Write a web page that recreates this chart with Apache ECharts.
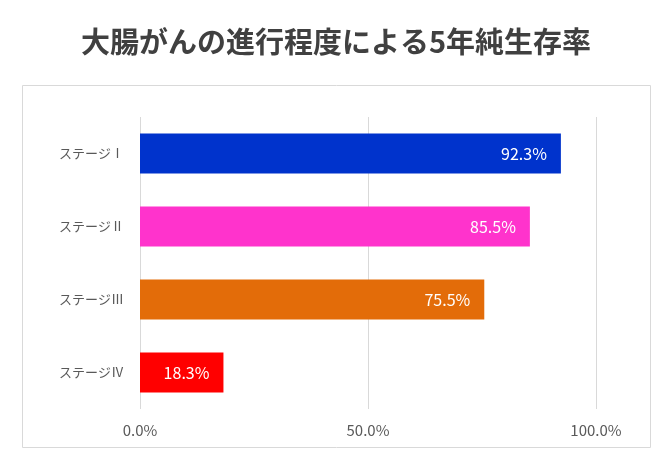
<!DOCTYPE html>
<html lang="ja">
<head>
  <meta charset="UTF-8">
  <title>echarts</title>
  <style>
  html, body { margin: 0; padding: 0; background: #fff; }
  #main { width: 672px; height: 460px; }
  </style>
  <script src="https://cdn.jsdelivr.net/npm/echarts@6/dist/echarts.min.js"></script>
</head>
<body>
  <div id="main"></div>
  <script>
  var categories = ['ステージⅠ', 'ステージⅡ', 'ステージⅢ', 'ステージⅣ'];
  var values = [92.3, 85.5, 75.5, 18.3];
  var colors = ['#0033CC', '#FF33CC', '#E36C09', '#FF0000'];
  var xTicks = [0, 50, 100];

  var font = '"Noto Sans CJK JP", "Noto Sans", sans-serif';

  echarts.init(document.getElementById('main')).setOption({
    animation: false,
    title: {
      text: '大腸がんの進行程度による5年純生存率',
      left: 'center',
      top: 22,
      textStyle: { fontFamily: font, fontSize: 29, fontWeight: 'bold', color: '#404040' }
    },
    graphic: [{
      type: 'rect',
      shape: { x: 22.5, y: 85.5, width: 628, height: 362 },
      style: { fill: 'none', stroke: '#d9d9d9', lineWidth: 1 },
      silent: true
    }],
    grid: { left: 140, right: 76, top: 117, bottom: 51 },
    xAxis: {
      type: 'value',
      min: 0,
      max: 100,
      interval: 50,
      axisLine: { show: false },
      axisTick: { show: false },
      splitLine: { lineStyle: { color: '#d9d9d9' } },
      axisLabel: {
        fontFamily: font, fontSize: 15, color: '#595959', margin: 14,
        formatter: function (v) { return xTicks.indexOf(v) >= 0 ? v.toFixed(1) + '%' : ''; }
      }
    },
    yAxis: {
      type: 'category',
      inverse: true,
      data: categories,
      axisLine: { show: false },
      axisTick: { show: false },
      axisLabel: { fontFamily: font, fontSize: 13, color: '#595959', margin: 16 }
    },
    series: [{
      type: 'bar',
      barWidth: 40,
      data: values.map(function (v, i) {
        return { value: v, itemStyle: { color: colors[i] } };
      }),
      label: {
        show: true,
        position: 'insideRight',
        distance: 14,
        color: '#fff',
        fontFamily: font,
        fontSize: 16,
        formatter: function (p) { return p.value.toFixed(1) + '%'; }
      }
    }]
  });
  </script>
</body>
</html>
